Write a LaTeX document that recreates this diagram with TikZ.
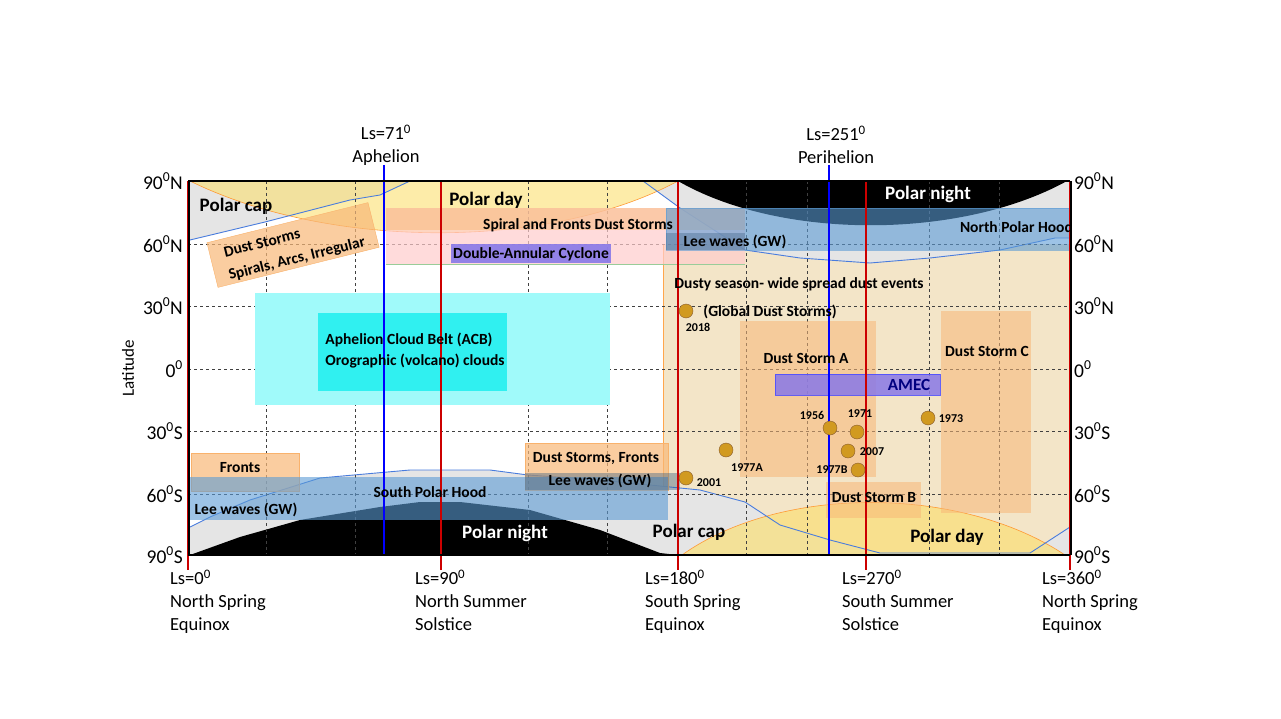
\documentclass[tikz,border=0pt]{standalone}
\usepackage{fontspec}
\setmainfont{Carlito}
\definecolor{hood}{HTML}{5B9BD5}
\definecolor{tan}{HTML}{F2E2C2}
\definecolor{ob}{HTML}{F8B878}
\definecolor{acbl}{HTML}{A0FAFA}
\definecolor{acbd}{HTML}{30F0F0}
\definecolor{purp}{HTML}{8878E8}
\definecolor{dotc}{HTML}{D19A20}
\definecolor{pday}{HTML}{FBDF70}
\begin{document}
\begin{tikzpicture}[x=1pt,y=-1pt,
 lab/.style={font=\fontsize{15.5}{16}\selectfont\bfseries,inner sep=0pt},
 big/.style={font=\fontsize{19}{20}\selectfont\bfseries,inner sep=0pt},
 ax/.style={font=\fontsize{19.5}{20}\selectfont,inner sep=0pt},
 bot/.style={font=\fontsize{18.5}{23}\selectfont,inner sep=0pt,align=left,anchor=north west},
 yr/.style={font=\fontsize{12}{13}\selectfont\bfseries,inner sep=0pt},
 dot/.style={circle,fill=dotc,draw=brown!70!black,minimum size=14pt,inner sep=0pt},
 grid/.style={dashed,black!75,line width=0.7pt},
 obx/.style={fill=ob,fill opacity=0.7,draw=ob!90!orange},
]
\useasboundingbox (0,0) rectangle (1281,719);
% dusty season
\fill[tan,opacity=0.9] (663,244) rectangle (1070,555);
\draw[orange!70,line width=0.5pt] (663,244) -- (663,555);
% N polar cap gray
\fill[black!10] (190,181) -- (410,181) -- (380,195) -- (350,200) -- (265,222) -- (190,240) -- cycle;
\fill[black!10] (643,181) -- (1070,181) -- (1070,238) -- (1055,238) -- (1000,250) -- (930,258) -- (870,263) -- (800,258) -- (745,250) -- (680,208) -- cycle;
% N polar night
\fill[black] (678,181) .. controls (780,240) and (960,240) .. (1067,181) -- cycle;
% N polar day
\fill[pday,opacity=0.6] (190,181) .. controls (330,250) and (550,250) .. (678,181) -- cycle;
\draw[orange!80,line width=0.6pt] (190,181) .. controls (330,250) and (550,250) .. (678,181);
% S polar cap gray
\fill[black!10] (190,527) -- (210,517) -- (250,500) -- (320,478) -- (410,470) -- (490,470) -- (528,475) -- (600,480) -- (700,490) -- (745,502) -- (780,525) -- (830,540) -- (880,553) -- (1030,553) -- (1070,527) -- (1070,555) -- (190,555) -- cycle;
% S polar night
\fill[black] (190,555) -- (240,537) -- (300,520) -- (380,507) -- (420,502) -- (460,502) -- (530,510) -- (600,530) -- (660,553) -- (678,555) -- cycle;
% S polar day
\fill[pday,opacity=0.65] (682,555) .. controls (780,485) and (960,485) .. (1065,555) -- cycle;
\draw[orange!80,line width=0.6pt] (682,555) .. controls (780,485) and (960,485) .. (1065,555);
% blue cap edges
\draw[hood!80!blue,line width=0.9pt] (190,240) -- (265,222) -- (350,200) -- (380,195) -- (410,181);
\draw[hood!80!blue,line width=0.9pt] (643,181) -- (680,208) -- (745,250) -- (800,258) -- (870,263) -- (930,258) -- (1000,250) -- (1055,238) -- (1070,238);
\draw[hood!80!blue,line width=0.9pt] (190,527) -- (210,517) -- (250,500) -- (320,478) -- (410,470) -- (490,470) -- (528,475) -- (600,480) -- (700,490) -- (745,502) -- (780,525) -- (830,540) -- (880,553) -- (1030,553) -- (1070,527);
% grid
\foreach \y in {244,306,369,431,494} \draw[grid] (188,\y) -- (1070,\y);
\foreach \x in {266,355,528,607,746,807,929,999} \draw[grid] (\x,181) -- (\x,555);
% boxes
\fill[red!20,opacity=0.7] (386,208) rectangle (745,264);
\fill[ob,opacity=0.5] (386,208) rectangle (745,230);
\draw[green!50!black!40,line width=0.4pt] (386,264) -- (745,264);
\fill[hood,opacity=0.6,draw=hood] (666,208) rectangle (1070,250);
\fill[black!40!hood,opacity=0.35] (666,233) rectangle (745,250);
\fill[purp,opacity=0.9] (451,244) rectangle (611,263);
\fill[acbl] (255,293) rectangle (610,405);
\fill[acbd] (318,313) rectangle (507,391);
\draw[obx,rotate around={14:(293,245)}] (210,222) rectangle (376,268);
\fill[ob,opacity=0.55] (740,321) rectangle (876,477);
\fill[ob,opacity=0.55] (941,311) rectangle (1031,513);
\fill[ob,opacity=0.55] (826,482) rectangle (921,518);
\fill[purp,opacity=0.85,draw=blue!70] (775,374) rectangle (940,395);
\draw[obx] (191,453) rectangle (299,491);
\draw[obx] (525,443) rectangle (668,490);
\fill[hood,opacity=0.6] (190,477) rectangle (668,520);
\fill[black!40!hood,opacity=0.4] (525,473) rectangle (680,490);
% vertical lines
\foreach \x in {441,678,866} \draw[red!80!black,line width=1.2pt] (\x,181) -- (\x,570);
\draw[red!80!black,line width=1.2pt] (188,181) -- (188,570);
\draw[red!80!black,line width=1.2pt] (1070,181) -- (1070,570);
\draw[blue,line width=1.4pt] (384,165) -- (384,555);
\draw[blue,line width=1.4pt] (829,165) -- (829,555);
% frame
\draw[black,line width=2pt] (188,181) -- (1070,181);
\draw[black,line width=2pt] (188,555) -- (1070,555);
\draw[black,line width=1.5pt] (189,181) -- (189,555);
\draw[black,line width=1.5pt] (1071,181) -- (1071,555);
% labels
\node[big] (pc) at (236,206) {Polar cap};
\node[big] (pd) at (486,200) {Polar day};
\node[big,white] (pn) at (928,194) {Polar night};
\node[big,white] (spn) at (505,533) {Polar night};
\node[big] (spc) at (689,532) {Polar cap};
\node[big] (spd) at (947,537) {Polar day};
\node[lab,rotate=14] (ds1) at (262,243) {Dust Storms};
\node[lab,rotate=14] (ds2) at (297,259) {Spirals, Arcs, Irregular};
\node[lab] (sf) at (578,225) {Spiral and Fronts Dust Storms};
\node[lab] (dac) at (531,254) {Double-Annular Cyclone};
\node[lab] (lw1) at (735,242) {Lee waves (GW)};
\node[lab,anchor=east] (nph) at (1073,227) {North Polar Hood};
\node[lab] (dse) at (799,284) {Dusty season- wide spread dust events};
\node[lab] (gds) at (770,312) {(Global Dust Storms)};
\node[lab,align=left,font=\fontsize{15.5}{21}\selectfont\bfseries] (acb) at (415,351) {Aphelion Cloud Belt (ACB)\\Orographic (volcano) clouds};
\node[lab] (dsa) at (806,358) {Dust Storm A};
\node[lab] (dsc) at (987,351) {Dust Storm C};
\node[lab] (dsb) at (874,497) {Dust Storm B};
\node[lab,font=\fontsize{17}{18}\selectfont\bfseries,blue!50!black] (amec) at (909,385) {AMEC};
\node[lab] (fr) at (240,468) {Fronts};
\node[lab] (dsf) at (596,458) {Dust Storms, Fronts};
\node[lab] (lw2) at (600,481) {Lee waves (GW)};
\node[lab] (sph) at (430,492) {South Polar Hood};
\node[lab] (lw3) at (246,510) {Lee waves (GW)};
% dots
\node[dot] (d2018) at (686,311) {}; \node[yr] (t2018) at (698,327) {2018};
\node[dot] (d1977a) at (726,450) {}; \node[yr] (t1977a) at (747,468) {1977A};
\node[dot] (d2001) at (686,478) {}; \node[yr] (t2001) at (709,483) {2001};
\node[dot] (d1956) at (830,428) {}; \node[yr] (t1956) at (812,415) {1956};
\node[dot] (d1971) at (857,432) {}; \node[yr] (t1971) at (860,414) {1971};
\node[dot] (d2007) at (848,451) {}; \node[yr] (t2007) at (872,452) {2007};
\node[dot] (d1977b) at (858,470) {}; \node[yr] (t1977b) at (832,470) {1977B};
\node[dot] (d1973) at (928,418) {}; \node[yr] (t1973) at (951,419) {1973};
% axis labels
\foreach \y/\t [count=\i] in {181/90\textsuperscript{0}N,244/60\textsuperscript{0}N,306/30\textsuperscript{0}N,369/0\textsuperscript{0},431/30\textsuperscript{0}S,494/60\textsuperscript{0}S,555/90\textsuperscript{0}S}{
 \node[ax,anchor=east] (l\i) at (183,\y) {\t};
 \node[ax,anchor=west] (r\i) at (1074,\y) {\t};}
\node[ax,font=\fontsize{17}{18}\selectfont,rotate=90] (lat) at (128,368) {Latitude};
\node[bot] (b0) at (170,570) {Ls=0\textsuperscript{0}\\North Spring\\Equinox};
\node[bot] (b90) at (415,570) {Ls=90\textsuperscript{0}\\North Summer\\Solstice};
\node[bot] (b180) at (645,570) {Ls=180\textsuperscript{0}\\South Spring\\Equinox};
\node[bot] (b270) at (842,570) {Ls=270\textsuperscript{0}\\South Summer\\Solstice};
\node[bot] (b360) at (1042,570) {Ls=360\textsuperscript{0}\\North Spring\\Equinox};
\node[ax,align=center,font=\fontsize{18.5}{23}\selectfont] (aph) at (386,145) {Ls=71\textsuperscript{0}\\Aphelion};
\node[ax,align=center,font=\fontsize{18.5}{23}\selectfont] (per) at (836,145) {Ls=251\textsuperscript{0}\\Perihelion};
\end{tikzpicture}
\end{document}
